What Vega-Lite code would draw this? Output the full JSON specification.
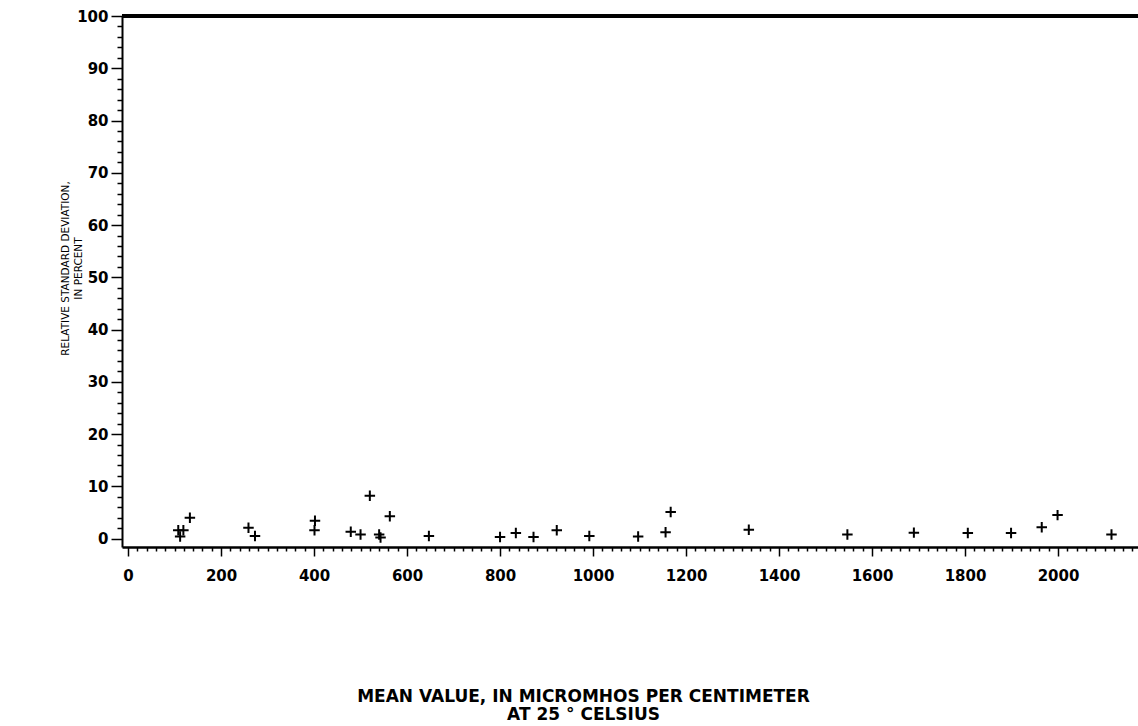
{
  "$schema": "https://vega.github.io/schema/vega-lite/v6.json",
  "width": 1016,
  "height": 531,
  "autosize": {"type": "none"},
  "padding": {"left": 122, "top": 16, "right": 0, "bottom": 179},
  "background": "white",
  "config": {
    "view": {"stroke": null},
    "axis": {"labelFont": "DejaVu Sans", "titleFont": "DejaVu Sans", "labelColor": "black", "titleColor": "black", "domainColor": "black", "tickColor": "black", "grid": false}
  },
  "data": {
    "values": [
      {"mean": 108, "rsd": 1.6},
      {"mean": 119, "rsd": 1.6},
      {"mean": 112, "rsd": 0.4},
      {"mean": 133, "rsd": 4.0},
      {"mean": 259, "rsd": 2.1},
      {"mean": 273, "rsd": 0.5},
      {"mean": 402, "rsd": 3.4},
      {"mean": 401, "rsd": 1.6},
      {"mean": 479, "rsd": 1.3},
      {"mean": 500, "rsd": 0.8},
      {"mean": 520, "rsd": 8.2},
      {"mean": 540, "rsd": 0.8},
      {"mean": 543, "rsd": 0.2},
      {"mean": 563, "rsd": 4.3},
      {"mean": 647, "rsd": 0.5},
      {"mean": 800, "rsd": 0.3},
      {"mean": 834, "rsd": 1.1},
      {"mean": 872, "rsd": 0.3},
      {"mean": 922, "rsd": 1.6},
      {"mean": 992, "rsd": 0.5},
      {"mean": 1097, "rsd": 0.4},
      {"mean": 1156, "rsd": 1.2},
      {"mean": 1167, "rsd": 5.1},
      {"mean": 1335, "rsd": 1.7},
      {"mean": 1547, "rsd": 0.8},
      {"mean": 1690, "rsd": 1.15},
      {"mean": 1806, "rsd": 1.1},
      {"mean": 1899, "rsd": 1.1},
      {"mean": 1965, "rsd": 2.2},
      {"mean": 1999, "rsd": 4.5},
      {"mean": 2115, "rsd": 0.8}
    ]
  },
  "resolve": {"axis": {"x": "independent", "y": "independent"}},
  "layer": [
    {
      "mark": {"type": "point", "shape": "M-1,0L1,0M0,-1L0,1", "filled": false, "stroke": "black", "strokeWidth": 2, "size": 110, "opacity": 1},
      "encoding": {
        "x": {
          "field": "mean", "type": "quantitative",
          "scale": {"domain": [-13, 2172], "nice": false, "zero": false},
          "axis": {
            "orient": "bottom",
            "values": [0, 200, 400, 600, 800, 1000, 1200, 1400, 1600, 1800, 2000],
            "format": "d",
            "domainWidth": 2.5,
            "tickSize": 9, "tickWidth": 1.5,
            "labelFontSize": 15, "labelFontWeight": "bold", "labelPadding": 12, "labelBaseline": "top",
            "title": ["MEAN VALUE, IN MICROMHOS PER CENTIMETER", "AT 25 ° CELSIUS"],
            "titleFontSize": 17, "titleFontWeight": "bold",
            "titleX": 461, "titleY": 141, "titleAlign": "center", "titleAnchor": null,
            "titleBaseline": "top", "titleLineHeight": 18
          }
        },
        "y": {
          "field": "rsd", "type": "quantitative",
          "scale": {"domain": [-1.6, 100], "nice": false, "zero": false},
          "axis": {
            "orient": "left",
            "values": [0, 10, 20, 30, 40, 50, 60, 70, 80, 90, 100],
            "format": "d",
            "domainWidth": 2,
            "tickSize": 11, "tickWidth": 1.5,
            "labelFontSize": 15, "labelFontWeight": "bold", "labelPadding": 3,
            "title": ["RELATIVE STANDARD DEVIATION,", "IN PERCENT"],
            "titleFontSize": 10.5, "titleFontWeight": "normal",
            "titleAngle": 270,
            "titleX": -54, "titleY": 252, "titleAlign": "center", "titleAnchor": null,
            "titleBaseline": "alphabetic", "titleLineHeight": 13
          }
        }
      }
    },
    {
      "mark": {"type": "rule", "color": "black", "strokeWidth": 3},
      "encoding": {
        "y": {
          "datum": 100, "type": "quantitative",
          "axis": {
            "orient": "left",
            "values": [2, 4, 6, 8, 12, 14, 16, 18, 22, 24, 26, 28, 32, 34, 36, 38, 42, 44, 46, 48, 52, 54, 56, 58, 62, 64, 66, 68, 72, 74, 76, 78, 82, 84, 86, 88, 92, 94, 96, 98],
            "labels": false, "domain": false, "title": null,
            "tickSize": 5, "tickWidth": 1.5
          }
        }
      }
    },
    {
      "mark": {"type": "point", "opacity": 0},
      "encoding": {
        "x": {
          "field": "mean", "type": "quantitative",
          "axis": {
            "orient": "bottom",
            "values": [20, 40, 60, 80, 100, 120, 140, 160, 180, 220, 240, 260, 280, 300, 320, 340, 360, 380, 420, 440, 460, 480, 500, 520, 540, 560, 580, 620, 640, 660, 680, 700, 720, 740, 760, 780, 820, 840, 860, 880, 900, 920, 940, 960, 980, 1020, 1040, 1060, 1080, 1100, 1120, 1140, 1160, 1180, 1220, 1240, 1260, 1280, 1300, 1320, 1340, 1360, 1380, 1420, 1440, 1460, 1480, 1500, 1520, 1540, 1560, 1580, 1620, 1640, 1660, 1680, 1700, 1720, 1740, 1760, 1780, 1820, 1840, 1860, 1880, 1900, 1920, 1940, 1960, 1980, 2020, 2040, 2060, 2080, 2100, 2120, 2140, 2160],
            "labels": false, "domain": false, "title": null,
            "tickSize": 4, "tickWidth": 1.5
          }
        },
        "y": {"field": "rsd", "type": "quantitative", "axis": null}
      }
    }
  ]
}
